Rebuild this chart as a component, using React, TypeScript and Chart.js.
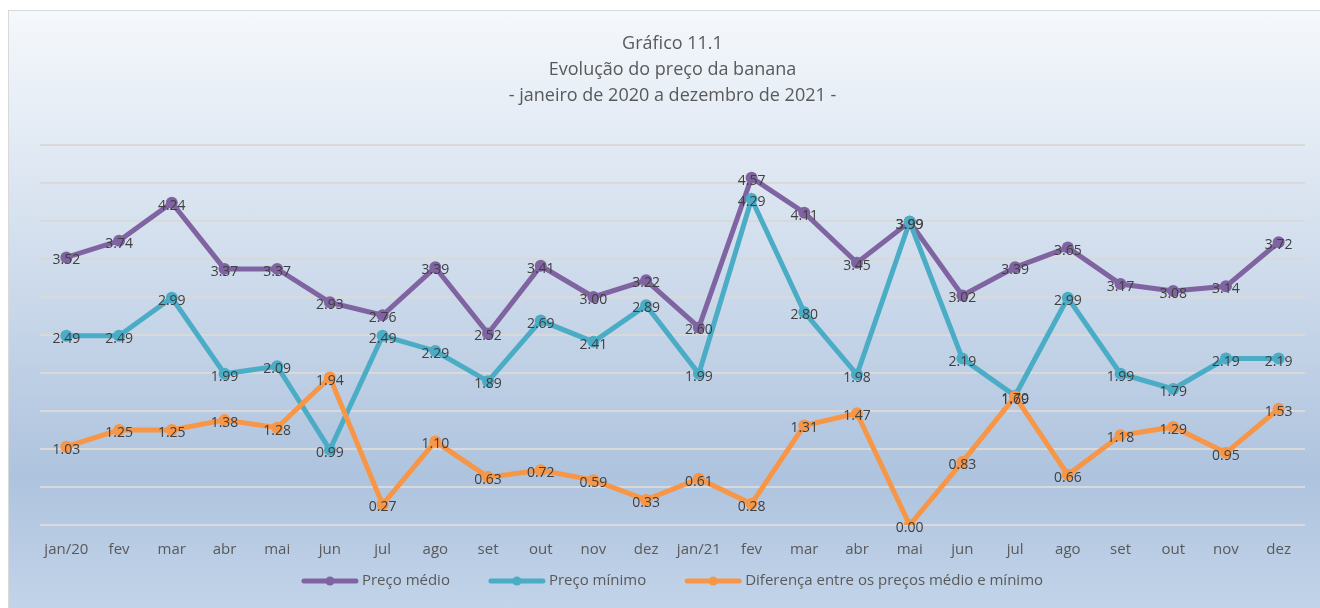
import React, { useEffect, useLayoutEffect, useRef } from "react";
import { Chart, registerables } from "chart.js";

Chart.register(...registerables);

const categories = [
  "jan/20", "fev", "mar", "abr", "mai", "jun", "jul", "ago", "set", "out", "nov", "dez",
  "jan/21", "fev", "mar", "abr", "mai", "jun", "jul", "ago", "set", "out", "nov", "dez",
];

const precoMedio = [
  3.52, 3.74, 4.24, 3.37, 3.37, 2.93, 2.76, 3.39, 2.52, 3.41, 3.0, 3.22,
  2.6, 4.57, 4.11, 3.45, 3.99, 3.02, 3.39, 3.65, 3.17, 3.08, 3.14, 3.72,
];

const precoMinimo = [
  2.49, 2.49, 2.99, 1.99, 2.09, 0.99, 2.49, 2.29, 1.89, 2.69, 2.41, 2.89,
  1.99, 4.29, 2.8, 1.98, 3.99, 2.19, 1.7, 2.99, 1.99, 1.79, 2.19, 2.19,
];

const diferenca = [
  1.03, 1.25, 1.25, 1.38, 1.28, 1.94, 0.27, 1.1, 0.63, 0.72, 0.59, 0.33,
  0.61, 0.28, 1.31, 1.47, 0.0, 0.83, 1.69, 0.66, 1.18, 1.29, 0.95, 1.53,
];

const seriesNames = [
  "Preço médio",
  "Preço mínimo",
  "Diferença entre os preços médio e mínimo",
];

const titleLines = [
  "Gráfico 11.1",
  "Evolução do preço da banana",
  "- janeiro de 2020 a dezembro de 2021 -",
];

const COLORS = ["#8064a2", "#4bacc6", "#f79646"];
const FONT = "'Open Sans', 'Noto Sans', sans-serif";

const dataLabelPlugin = {
  id: "dataLabels",
  afterDatasetsDraw(chart: any) {
    const ctx = chart.ctx;
    ctx.save();
    ctx.font = `14px ${FONT}`;
    ctx.fillStyle = "#404040";
    ctx.textAlign = "center";
    ctx.textBaseline = "middle";
    chart.data.datasets.forEach((ds: any, i: number) => {
      const meta = chart.getDatasetMeta(i);
      meta.data.forEach((pt: any, j: number) => {
        const v = ds.data[j] as number;
        ctx.fillText(v.toFixed(2), pt.x, pt.y + 3);
      });
    });
    ctx.restore();
  },
};

const customLegendPlugin = {
  id: "customLegend",
  afterDraw(chart: any) {
    const ctx = chart.ctx;
    const area = chart.chartArea;
    const symW = 56;
    const symGap = 4;
    const itemGap = 39;
    ctx.save();
    ctx.font = `15px ${FONT}`;
    const widths = chart.data.datasets.map((ds: any) => ctx.measureText(ds.label).width);
    const total =
      widths.reduce((a: number, w: number) => a + symW + symGap + w, 0) +
      itemGap * (widths.length - 1);
    let x = (area.left + area.right) / 2 - total / 2;
    const y = area.bottom + 56;
    chart.data.datasets.forEach((ds: any, i: number) => {
      const color = ds.borderColor;
      ctx.strokeStyle = color;
      ctx.lineWidth = 5;
      ctx.lineCap = "round";
      ctx.beginPath();
      ctx.moveTo(x + 2, y);
      ctx.lineTo(x + symW - 2, y);
      ctx.stroke();
      ctx.fillStyle = color;
      ctx.beginPath();
      ctx.arc(x + symW / 2, y, 4.5, 0, Math.PI * 2);
      ctx.fill();
      ctx.fillStyle = "#595959";
      ctx.textAlign = "left";
      ctx.textBaseline = "middle";
      ctx.fillText(ds.label, x + symW + symGap, y);
      x += symW + symGap + widths[i] + itemGap;
    });
    ctx.restore();
  },
};

export default function App() {
  const ref = useRef<HTMLCanvasElement>(null);

  useLayoutEffect(() => {
    const prev = document.body.style.margin;
    document.body.style.margin = "0";
    return () => {
      document.body.style.margin = prev;
    };
  }, []);

  useEffect(() => {
    if (!ref.current) return;
    const mk = (label: string, data: number[], color: string, order: number) => ({
      label,
      data,
      borderColor: color,
      backgroundColor: color,
      borderWidth: 5,
      pointRadius: 6,
      pointBorderWidth: 0,
      pointBackgroundColor: color,
      tension: 0,
      order,
    });
    const chart = new Chart(ref.current, {
      type: "line",
      data: {
        labels: categories,
        datasets: [
          mk(seriesNames[0], precoMedio, COLORS[0], 2),
          mk(seriesNames[1], precoMinimo, COLORS[1], 1),
          mk(seriesNames[2], diferenca, COLORS[2], 0),
        ],
      },
      options: {
        animation: false,
        responsive: false,
        maintainAspectRatio: false,
        layout: { padding: { left: 31, right: 15, top: 0, bottom: 41 } },
        plugins: {
          tooltip: { enabled: false },
          title: {
            display: true,
            text: titleLines,
            color: "#595959",
            font: { family: FONT, size: 18, weight: "normal", lineHeight: "26px" },
            padding: { top: 20, bottom: 36 },
          },
          legend: { display: false },
        },
        scales: {
          x: {
            offset: true,
            grid: { display: false },
            border: { display: false },
            ticks: {
              color: "#595959",
              font: { family: FONT, size: 15 },
              padding: 8,
              maxRotation: 0,
              autoSkip: false,
            },
          },
          y: {
            min: 0,
            max: 5,
            border: { display: false },
            grid: { color: "#d9d9d9", lineWidth: 2, drawTicks: false },
            ticks: { display: false, stepSize: 0.5 },
          },
        },
      },
      plugins: [dataLabelPlugin, customLegendPlugin],
    });
    return () => chart.destroy();
  }, []);

  return (
    <div
      style={{
        width: 1320,
        height: 608,
        paddingLeft: 8,
        paddingTop: 10,
        boxSizing: "border-box",
        overflow: "hidden",
        background: "#ffffff",
      }}
    >
      <div
        style={{
          width: 1312,
          height: 598,
          boxSizing: "border-box",
          borderTop: "1px solid #d9d9d9",
          borderLeft: "1px solid #d9d9d9",
          background:
            "linear-gradient(to bottom, #f5f8fc 0%, #dbe5f1 30%, #aec3de 78%, #c2d4e9 100%)",
        }}
      >
        <canvas ref={ref} width={1311} height={597} style={{ display: "block" }} />
      </div>
    </div>
  );
}
